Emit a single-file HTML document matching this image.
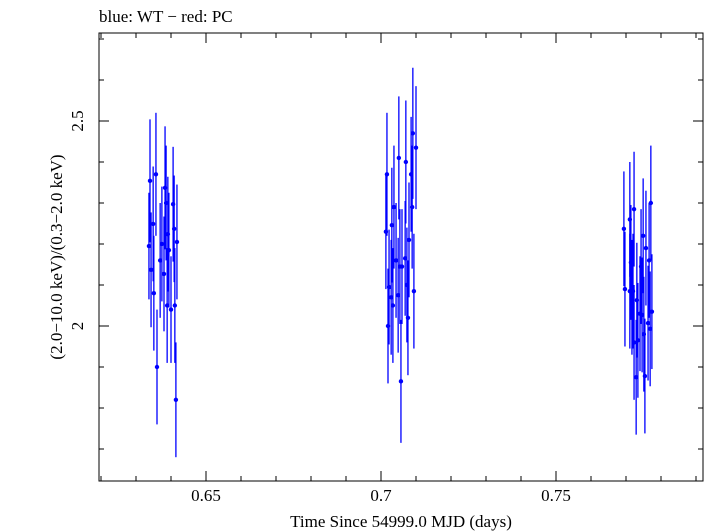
<!DOCTYPE html>
<html><head><meta charset="utf-8"><style>
body{margin:0;background:#fff}
svg{display:block;font-family:"Liberation Serif",serif}
</style></head><body>
<svg id="c" width="705" height="532">
<text x="99" y="22" font-size="17">blue: WT − red: PC</text>
<rect x="99" y="33" width="604" height="448" fill="none" stroke="#000" stroke-width="1"/>
<g id="axes"></g>
<g id="marks"></g>
<text x="401" y="527" font-size="17" text-anchor="middle">Time Since 54999.0 MJD (days)</text>
<text transform="translate(62,257) rotate(-90)" font-size="17" text-anchor="middle">(2.0−10.0 keV)/(0.3−2.0 keV)</text>
</svg>
<script>
const xs=[0.6340,0.6357,0.6349,0.6337,0.6343,0.6351,0.6360,0.6383,0.6391,0.6386,0.6406,0.6409,0.6417,0.6394,0.6380,0.6389,0.6400,0.6411,0.6414,0.6374,0.6369,
0.7017,0.7014,0.7031,0.7037,0.7051,0.7071,0.7091,0.7100,0.7086,0.7089,0.7080,0.7069,0.7060,0.7054,0.7023,0.7029,0.7034,0.7049,0.7074,0.7094,0.7077,0.7020,0.7057,0.7043,
0.7694,0.7711,0.7723,0.7771,0.7749,0.7757,0.7766,0.7714,0.7743,0.7697,0.7711,0.7720,0.7717,0.7731,0.7774,0.7740,0.7746,0.7763,0.7769,0.7751,0.7723,0.7734,0.7729,0.7754];
const ys=[2.354,2.37,2.249,2.195,2.137,2.08,1.90,2.337,2.224,2.30,2.297,2.237,2.205,2.185,2.127,2.05,2.04,2.05,1.82,2.20,2.16,
2.37,2.23,2.246,2.29,2.41,2.40,2.47,2.435,2.37,2.29,2.21,2.165,2.145,2.145,2.095,2.07,2.05,2.075,2.10,2.085,2.02,2.00,1.865,2.16,
2.237,2.26,2.285,2.30,2.22,2.19,2.16,2.155,2.145,2.09,2.085,2.085,2.07,2.063,2.035,2.03,2.027,2.007,1.993,1.98,1.96,1.965,1.875,1.878];
const errs=[0.15,0.15,0.14,0.13,0.14,0.14,0.14,0.15,0.14,0.14,0.14,0.13,0.14,0.14,0.14,0.14,0.13,0.14,0.14,0.14,0.14,
0.15,0.14,0.14,0.15,0.15,0.15,0.16,0.15,0.14,0.15,0.14,0.14,0.14,0.14,0.14,0.14,0.14,0.14,0.14,0.14,0.14,0.14,0.15,0.14,
0.14,0.14,0.14,0.14,0.14,0.14,0.14,0.14,0.14,0.14,0.14,0.14,0.14,0.14,0.14,0.14,0.14,0.14,0.14,0.14,0.14,0.14,0.14,0.14];
const xTicks=[0.65,0.7,0.75];
const yTicks=[2,2.5];
const X=v=>206+(v-0.65)*3500;
const Y=v=>326-(v-2)*410;
const NS="http://www.w3.org/2000/svg";
function mk(t,a,p){const e=document.createElementNS(NS,t);for(const k in a)e.setAttribute(k,a[k]);p.appendChild(e);return e;}
const ax=document.getElementById('axes'),mg=document.getElementById('marks');
for(let v=0.62;v<=0.9;v+=0.01){const px=X(v);if(px<100||px>702)continue;
 const major=xTicks.some(t=>Math.abs(t-v)<1e-6);const L=major?10:5;
 const t1=mk('line',{x1:px,x2:px,y1:481,y2:481-L,stroke:'#000'},ax);
 
 
 const t2=mk('line',{x1:px,x2:px,y1:33,y2:33+L,stroke:'#000'},ax);
 
 }
xTicks.forEach(v=>{const t=mk('text',{x:X(v),y:501,'font-size':17,'text-anchor':'middle'},ax);t.textContent=String(v);
 
 });
for(let v=1.6;v<=2.8;v+=0.1){const py=Y(v);if(py<34||py>480)continue;
 const major=yTicks.some(t=>Math.abs(t-v)<1e-6);const L=major?10:5;
 const t1=mk('line',{x1:99,x2:99+L,y1:py,y2:py,stroke:'#000'},ax);
 
 
 const t2=mk('line',{x1:703,x2:703-L,y1:py,y2:py,stroke:'#000'},ax);
 
 }
yTicks.forEach(v=>{const t=mk('text',{transform:`translate(83,${Y(v)}) rotate(-90)`,'font-size':17,'text-anchor':'middle'},ax);t.textContent=String(v);
 
 });
xs.forEach((x,i)=>{const px=X(x);
 const l=mk('line',{x1:px,x2:px,y1:Y(ys[i]+errs[i]),y2:Y(ys[i]-errs[i]),stroke:'#0000ff','stroke-width':1.3},mg);
 
 
 const c=mk('circle',{cx:px,cy:Y(ys[i]),r:2.2,fill:'#0000ff'},mg);
 
 });
</script>
</body></html>
